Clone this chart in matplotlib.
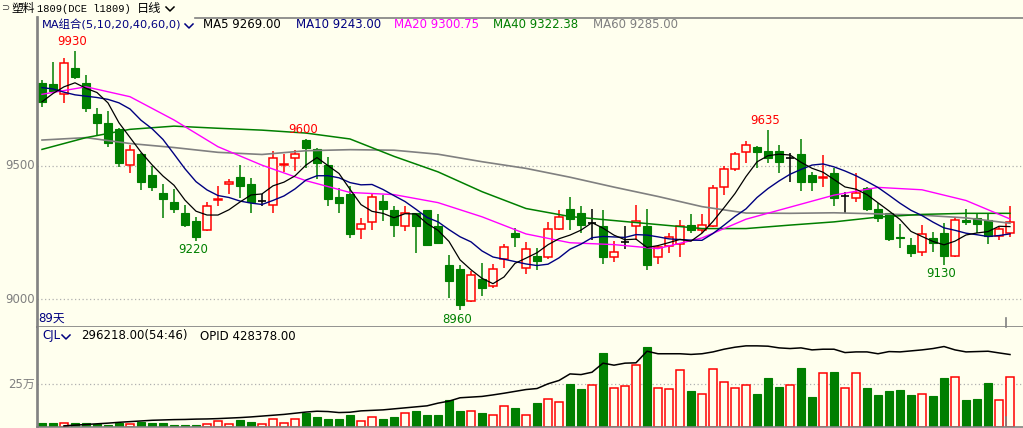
import numpy as np
import matplotlib
matplotlib.use("Agg")
import matplotlib.pyplot as plt
from matplotlib.lines import Line2D

plt.rcParams['font.family'] = ['DejaVu Sans', 'Noto Sans CJK SC']

# ---- daily candles (89 days) ----
opens = [9808, 9805, 9768, 9864, 9808, 9693, 9658, 9636, 9501, 9544,
         9465, 9399, 9364, 9324, 9293, 9259, 9372, 9430, 9459, 9431,
         9369, 9353, 9501, 9527, 9598, 9562, 9502, 9383, 9394, 9264,
         9290, 9367, 9334, 9276, 9323, 9334, 9274, 9128, 9112, 8995,
         9076, 9050, 9150, 9249, 9118, 9162, 9160, 9262, 9340, 9325,
         9284, 9274, 9160, 9216, 9276, 9274, 9160, 9201, 9207, 9278,
         9259, 9276, 9421, 9486, 9552, 9569, 9555, 9555, 9527, 9544,
         9465, 9455, 9471, 9388, 9380, 9415, 9340, 9322, 9232, 9203,
         9178, 9228, 9249, 9163, 9297, 9303, 9297, 9237, 9249]
highs = [9820, 9888, 9901, 9930, 9839, 9714, 9704, 9640, 9576, 9546,
         9499, 9431, 9413, 9353, 9307, 9363, 9424, 9451, 9502, 9453,
         9394, 9555, 9542, 9559, 9600, 9565, 9531, 9418, 9425, 9303,
         9398, 9390, 9349, 9349, 9323, 9334, 9319, 9166, 9128, 9107,
         9138, 9132, 9207, 9266, 9216, 9194, 9290, 9334, 9384, 9350,
         9340, 9334, 9218, 9274, 9353, 9337, 9200, 9249, 9297, 9319,
         9319, 9428, 9499, 9550, 9592, 9575, 9635, 9577, 9546, 9600,
         9478, 9540, 9490, 9403, 9471, 9421, 9359, 9322, 9282, 9228,
         9278, 9253, 9287, 9307, 9340, 9319, 9324, 9272, 9349]
lows = [9721, 9770, 9733, 9823, 9702, 9615, 9571, 9496, 9471, 9411,
        9406, 9303, 9322, 9272, 9220, 9257, 9350, 9394, 9381, 9322,
        9349, 9322, 9478, 9481, 9492, 9449, 9350, 9324, 9231, 9226,
        9259, 9294, 9234, 9257, 9172, 9201, 9208, 9006, 8960, 8990,
        9012, 9044, 9118, 9197, 9097, 9110, 9153, 9259, 9259, 9249,
        9224, 9132, 9141, 9187, 9222, 9110, 9132, 9175, 9160, 9249,
        9247, 9272, 9390, 9481, 9509, 9490, 9509, 9471, 9440, 9406,
        9406, 9421, 9350, 9322, 9365, 9332, 9290, 9218, 9194, 9160,
        9163, 9178, 9130, 9157, 9278, 9247, 9207, 9222, 9234]
closes = [9737, 9780, 9883, 9833, 9714, 9658, 9586, 9511, 9559, 9440,
          9421, 9376, 9339, 9280, 9234, 9349, 9376, 9438, 9425, 9365,
          9369, 9527, 9507, 9542, 9567, 9509, 9377, 9360, 9246, 9281,
          9383, 9339, 9278, 9322, 9276, 9204, 9212, 9070, 8979, 9090,
          9044, 9112, 9195, 9234, 9187, 9145, 9262, 9307, 9302, 9280,
          9284, 9160, 9176, 9216, 9292, 9128, 9195, 9232, 9276, 9259,
          9277, 9415, 9487, 9542, 9576, 9552, 9530, 9515, 9527, 9440,
          9440, 9457, 9378, 9388, 9398, 9338, 9305, 9226, 9228, 9175,
          9243, 9212, 9163, 9297, 9290, 9281, 9237, 9263, 9291]

# volume (成交量) and open interest, in thousands
volume_k = [23.8, 17.9, 23.8, 17.9, 17.9, 15.9, 9.9, 21.8, 15.9, 27.8,
            23.8, 17.9, 11.9, 11.9, 11.9, 15.9, 29.8, 15.9, 37.7, 25.8,
            13.9, 45.6, 23.8, 45.6, 79.4, 53.6, 47.6, 41.7, 65.5, 35.7,
            57.5, 41.7, 59.5, 81.3, 89.3, 65.5, 71.4, 154.8, 89.3, 89.3,
            83.3, 69.4, 123, 113, 69.4, 137, 164.7, 148.8, 250, 226,
            248, 440, 230, 242, 369, 476, 230, 224, 337, 214,
            194, 343, 266, 230, 248, 196, 286, 238, 248, 351,
            173, 319, 327, 230, 319, 232, 190, 214, 220, 185,
            194, 179, 286, 296, 155, 161, 256, 159, 296.218]
opid_k = [np.nan, np.nan, 4, 8, 12, 16, 20, 25, 29, 33,
          37, 39, 41, 42, 44, 45, 47, 50, 53, 57,
          62, 67, 72, 79, 86, 91, 89, 83, 85, 93,
          96, 99, 105, 111, 117, 123, 139, 151, 171, 175,
          179, 188, 198, 209, 220, 226, 254, 274, 313, 309,
          323, 377, 365, 377, 379, 448, 433, 433, 433, 429,
          433, 444, 460, 472, 480, 480, 478, 468, 464, 468,
          456, 460, 460, 440, 444, 444, 433, 446, 444, 450,
          456, 464, 476, 456, 444, 446, 448, 438, 428.378]

# moving averages: first points of MA5 / MA10 need earlier days
ma5_head = [9739, 9770, 9795, 9810]
ma10_head = [9792, 9787, 9775, 9765, 9760, 9755, 9748, 9735, 9712]
# slow MAs read every 4 days
ma_idx = list(range(0, 89, 4))
ma20 = [9767, 9795, 9758, 9671, 9571, 9502, 9444, 9400, 9392, 9362, 9309, 9245,
        9212, 9205, 9190, 9230, 9300, 9345, 9390, 9419, 9410, 9370, 9301]
ma40 = [9561, 9605, 9636, 9648, 9640, 9633, 9622, 9600, 9535, 9477, 9403, 9340,
        9310, 9295, 9280, 9265, 9265, 9278, 9290, 9308, 9318, 9322, 9322]
ma60 = [9596, 9605, 9583, 9568, 9550, 9542, 9556, 9560, 9558, 9543, 9515, 9490,
        9457, 9420, 9385, 9347, 9323, 9322, 9324, 9320, 9315, 9305, 9285]
ma_labels = {'MA5': 9269.00, 'MA10': 9243.00, 'MA20': 9300.75, 'MA40': 9322.38, 'MA60': 9285.00}

BG = '#FFFFEE'
RED = '#FF0000'
GREEN = '#007F00'
GRAY = '#808080'
NAVY = '#000080'
MAGENTA = '#FF00FF'

W, H = 1023, 428
fig = plt.figure(figsize=(W / 100, H / 100), dpi=100, facecolor=BG)

n = len(closes)
x = np.arange(n)
o = np.array(opens, float)
c = np.array(closes, float)
hi = np.array(highs, float)
lo = np.array(lows, float)

up = c > o
down = c < o
flat = c == o
prev = np.concatenate([[c[0]], c[:-1]])
vol_up = up | (flat & (c >= prev))

xlim = (-5 / 11, -5 / 11 + 986 / 11)
bw = 8 / 11

# ---------------- price panel ----------------
ax = fig.add_axes([37 / W, (H - 327) / H, (W - 37) / W, 310 / H])
ax.set_facecolor(BG)
ax.set_xlim(*xlim)
ax.set_ylim(8897, 10056)
for s in ['top', 'right']:
    ax.spines[s].set_visible(False)
for s in ['left', 'bottom']:
    ax.spines[s].set_color(GRAY)
    ax.spines[s].set_linewidth(1.2)
ax.set_xticks([])
ax.set_yticks([])
for lvl in [9500, 9000]:
    ax.axhline(lvl, color='#B0B0B0', lw=0.9, ls=(0, (1, 2)), zorder=0)

col = np.where(up, RED, np.where(down, GREEN, 'black'))
ax.vlines(x, lo, hi, colors=col, lw=1.1, zorder=2)
body_lo = np.minimum(o, c)
body_h = np.maximum(np.abs(c - o), 0.1)
ax.bar(x[down], body_h[down], bottom=body_lo[down], width=bw,
       color=GREEN, edgecolor=GREEN, lw=0.8, zorder=3)
ax.bar(x[up], body_h[up], bottom=body_lo[up], width=bw,
       color=BG, edgecolor=RED, lw=1.1, zorder=3)
ax.hlines(c[flat], x[flat] - bw / 2, x[flat] + bw / 2, colors='black', lw=1.2, zorder=3)

# moving averages
ma5 = np.array(ma5_head + [np.mean(c[i - 4:i + 1]) for i in range(4, n)])
ma10 = np.array(ma10_head + [np.mean(c[i - 9:i + 1]) for i in range(9, n)])
ax.plot(ma_idx, ma60, color=GRAY, lw=1.2, zorder=4)
ax.plot(ma_idx, ma40, color=GREEN, lw=1.1, zorder=4)
ax.plot(ma_idx, ma20, color=MAGENTA, lw=1.0, zorder=4)
ax.plot(x, ma10, color=NAVY, lw=1.0, zorder=4)
ax.plot(x, ma5, color='black', lw=0.9, zorder=4)

# high / low markers
for idx in [int(np.argmax(hi[:10])), int(np.argmax(hi[15:40])) + 15, int(np.argmax(hi[60:75])) + 60]:
    ax.annotate(f'{hi[idx]:.0f}', (idx, hi[idx]), xytext=(-3, 9), textcoords='offset pixels',
                ha='center', va='center', color=RED, fontsize=8.5, zorder=6)
for idx in [int(np.argmin(lo[5:20])) + 5, int(np.argmin(lo[30:45])) + 30, int(np.argmin(lo[75:])) + 75]:
    ax.annotate(f'{lo[idx]:.0f}', (idx, lo[idx]), xytext=(-3, -9), textcoords='offset pixels',
                ha='center', va='center', color='#008000', fontsize=8.5, zorder=6)

# ---------------- volume panel ----------------
axv = fig.add_axes([37 / W, 1.5 / H, (W - 37) / W, 99.5 / H])
axv.set_facecolor(BG)
axv.set_xlim(*xlim)
axv.set_ylim(0, 99.5 * 5.952)
for s in ['top', 'right']:
    axv.spines[s].set_visible(False)
for s in ['left', 'bottom']:
    axv.spines[s].set_color(GRAY)
    axv.spines[s].set_linewidth(1.2)
axv.set_xticks([])
axv.set_yticks([])
axv.axhline(250, color='#B0B0B0', lw=0.9, ls=(0, (1, 2)), zorder=0)
v = np.array(volume_k)
axv.bar(x[~vol_up], v[~vol_up], width=bw, color=GREEN, edgecolor=GREEN, lw=0.8, zorder=2)
axv.bar(x[vol_up], v[vol_up], width=bw, color=BG, edgecolor=RED, lw=1.1, zorder=2)
axv.plot(x, opid_k, color='black', lw=1.1, zorder=3)

# ---------------- frame lines & texts ----------------
def fx(px):
    return px / W

def fy(py):
    return 1 - py / H

fig.add_artist(Line2D([fx(37.5), fx(37.5)], [fy(17), fy(428)], color=GRAY, lw=1.2))
fig.add_artist(Line2D([fx(195), 1], [fy(17.5), fy(17.5)], color=GRAY, lw=1.2))
fig.add_artist(Line2D([fx(1005.5), fx(1005.5)], [fy(318), fy(327)], color=GRAY, lw=1.2))
fig.add_artist(Line2D([fx(1005.5), fx(1005.5)], [fy(417), fy(426)], color=GRAY, lw=1.2))

def chevron(x0, yc, color):
    fig.add_artist(Line2D([fx(x0), fx(x0 + 4), fx(x0 + 8)], [fy(yc - 2), fy(yc + 2), fy(yc - 2)],
                          color=color, lw=1.1))

fs = 8.5
cjk = ['Noto Sans CJK SC', 'DejaVu Sans']
fig.text(fx(1), fy(8), '⊃', color='#404040', fontsize=7, va='center', ha='left')
fig.text(fx(11), fy(8.5), '塑料', color='black', fontsize=8.5, va='center', ha='left', family=cjk)
fig.text(fx(37), fy(8.5), '1809(DCE l1809)', color='black', fontsize=7.5, va='center', ha='left',
         family='Liberation Mono')
fig.text(fx(137), fy(8.5), '日线', color='black', fontsize=8.8, va='center', ha='left', family=cjk)
chevron(166, 9, 'black')

fig.text(fx(42), fy(25), 'MA组合(5,10,20,40,60,0)', color=NAVY, fontsize=8.2, va='center', ha='left')
chevron(185, 26, NAVY)
legend_items = [(203, 'MA5', 'black'), (296, 'MA10', NAVY), (394, 'MA20', MAGENTA),
                (493, 'MA40', GREEN), (593, 'MA60', GRAY)]
for px, name, color in legend_items:
    fig.text(fx(px), fy(25), f'{name} {ma_labels[name]:.2f}', color=color, fontsize=fs,
             va='center', ha='left')

fig.text(fx(35), fy(165.7), '9500', color=GRAY, fontsize=fs, va='center', ha='right')
fig.text(fx(35), fy(299.5), '9000', color=GRAY, fontsize=fs, va='center', ha='right')
fig.text(fx(38), fy(318), '89天', color=NAVY, fontsize=fs, va='center', ha='left')
fig.text(fx(35), fy(384), '25万', color=GRAY, fontsize=fs, va='center', ha='right')

fig.text(fx(42), fy(336), 'CJL', color=NAVY, fontsize=fs, va='center', ha='left')
chevron(62, 337, NAVY)
fig.text(fx(81), fy(336), f'{volume_k[-1] * 1000:.2f}(54:46)', color='black', fontsize=fs,
         va='center', ha='left')
fig.text(fx(200), fy(336), f'OPID {opid_k[-1] * 1000:.2f}', color='black', fontsize=fs,
         va='center', ha='left')

fig.savefig('out.png', dpi=100, facecolor=BG)
